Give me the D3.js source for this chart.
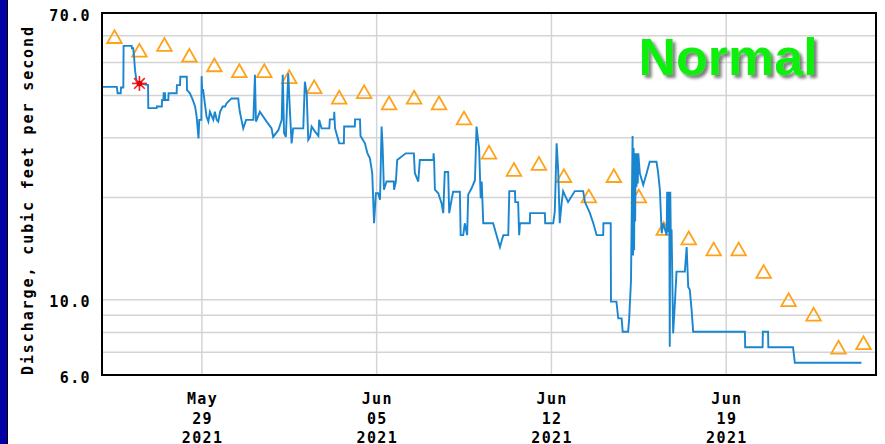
<!DOCTYPE html>
<html>
<head>
<meta charset="utf-8">
<style>
  body { margin: 0; background: #fff; }
  svg { display: block; }
  .lbl { font: bold 15px "DejaVu Sans Mono", monospace; fill: #000; letter-spacing: 1.4px; }
</style>
</head>
<body>
<svg id="chart" width="885" height="444"></svg>
<script src="https://cdn.jsdelivr.net/npm/d3@7"></script>
<script>

// period shown (UTC so nothing shifts)
var startTime = "2021-05-25T00:00:00Z",
    endTime = "2021-06-25T00:00:00Z";

// median daily statistic, one per day starting May 25 (plotted at noon)
var medianFlow = [59.6, 54.3, 56.5, 52.5, 49.2, 47.3, 47.3, 45.4, 42.4, 39.5, 41.0,
                  38.0, 39.5, 38.0, 34.3, 27.2, 24.2, 25.2, 23.2, 20.2, 23.2, 20.2,
                  16.2, 15.2, 14.1, 14.1, 12.1, 10.0, 9.06, 7.24, 7.46];

// discharge: [hours since start, cfs]
var flow = [
  [0,42.4],[14.25,42.4],[15,40.6],[18,40.6],[18.25,42.2],[20.5,42.2],[20.75,56],[28.5,56],
  [28.75,55.1],[30,55.1],[30.75,52.3],[31.75,47.5],[33.25,43.9],[36,43.4],[44.25,42.9],[44.5,36.7],
  [52.5,36.7],[52.75,37.1],[57.5,37.1],[57.75,38.8],[59,38.8],[59.25,40.6],[60.5,40.6],[60.75,38.8],
  [63.75,38.8],[64,40.6],[71.75,40.6],[72,42.9],[75,42.9],[75.25,45.4],[81.5,45.4],[81.75,41.5],
  [84.5,40.6],[87.25,38.8],[89.5,37.1],[91,34.6],[92.75,29.9],[93.5,33.9],[95.5,33.9],[95.75,45.6],
  [96.25,41.5],[97.25,41.5],[97.5,40.9],[100.5,34.6],[102.25,33.5],[103.75,35.8],[107,33.9],[108.5,35.8],
  [110.25,33.9],[111.75,33.5],[113.5,35.8],[116,37.1],[118.25,37.1],[119.75,37.9],[124.5,39.2],[131,39.2],
  [131.25,38.3],[132.5,35.8],[135.75,32.0],[138.5,33.9],[145.5,33.9],[147,46.0],[148,33.5],[151.75,35.8],
  [158.25,33.5],[163,32.0],[164.5,30.2],[169.5,31.6],[172.75,33.9],[173.75,46.0],[175,31.0],[176.75,30.2],
  [179,46.5],[180.75,35.4],[182.25,28.9],[183.75,32.0],[193.5,32.0],[193.75,33.9],[195,43.9],[196.75,40.6],
  [198.25,29.6],[200,30.2],[201.5,32.4],[204.75,31.3],[208,30.4],[208.75,33.9],[211,32.0],[218.5,32.0],
  [219,34.0],[223,34.0],[223.25,35.8],[224,32.0],[228,28.9],[232.5,28.9],[232.75,32.4],[243,32.4],
  [243.25,34.0],[248,34.0],[248.5,30.4],[252.75,28.9],[255,27.1],[257.5,26.1],[259.75,23.6],[261.5,16.8],
  [263.25,20.6],[265.5,20.6],[267.25,19.7],[268.75,32.4],[269.75,28.3],[271,21.1],[273.5,22.3],[280.5,22.3],
  [280.75,21.1],[282.5,22.3],[283.75,25.8],[292,27.0],[299.75,27.0],[300.75,23.6],[304,22.3],[305.5,25.8],
  [318.5,25.8],[318.75,27.0],[319.25,25.8],[320,21.1],[323.25,20.6],[326.5,19.2],[328,18.0],[329.5,23.8],
  [332.75,23.8],[333.75,18.0],[336,19.7],[337.5,20.8],[344,20.8],[344.75,15.5],[347.25,15.5],[348.75,16.8],
  [351,15.5],[352,20.4],[355.25,21.3],[358.5,22.5],[360,32.4],[362.5,27.9],[364,19.9],[365,22.3],
  [366.5,16.8],[376,16.8],[379.25,15.5],[382.5,14.3],[385.75,15.5],[390.5,15.5],[391.5,20.9],[397,20.9],
  [397.25,19.4],[400,19.4],[401,15.5],[401.75,16.8],[411.25,16.8],[411.5,18.0],[425.75,18.0],[426,16.8],
  [433.75,16.8],[435.25,18.2],[437,28.9],[438.5,24.1],[440,16.8],[441.75,19.2],[443.25,20.9],[448,19.4],
  [454.5,20.9],[462.5,20.9],[464.25,19.4],[469,18.0],[472.25,16.8],[475.5,15.5],[481.75,15.5],[482,16.8],
  [489,16.8],[489.25,9.87],[494.5,9.87],[496.25,8.81],[499.5,8.81],[500.5,8.05],[505.75,8.05],[506.75,8.81],
  [508.5,11.4],[510,30.4],[510.5,13.5],[511,28.0],[511.5,14.0],[512,27.0],[512.5,17.0],[513,27.0],
  [513.75,21.5],[514.5,27.0],[515,22.0],[515.5,27.0],[517,23.6],[520.25,21.8],[523.5,23.6],[526.5,25.5],
  [533,25.5],[534.5,23.8],[536.25,21.1],[538,15.7],[539.5,16.8],[542.75,15.5],[543.25,20.8],[543.75,15.8],
  [544.25,20.8],[544.75,15.8],[545.25,20.8],[545.75,7.27],[546.25,20.8],[546.75,15.6],[547.5,16.1],[549,7.96],
  [550.75,9.87],[552.25,12.1],[560.25,12.1],[562,14.3],[563.5,10.9],[565,10.7],[566.75,9.33],[568.25,8.05],
  [618,8.05],[618.25,7.24],[635,7.24],[635.25,8.05],[640.25,8.05],[640.5,7.24],[664.25,7.24],[666,6.52],
  [730,6.52]
];

// measured value (red asterisk)
var measured = [36, 43.4];

var yTickValues = [70, 10, 6],
    yGridValues = [7, 8, 9, 10, 20, 30, 40, 50, 60],
    xTickDates = ["2021-05-29", "2021-06-05", "2021-06-12", "2021-06-19"];

var statusText = "Normal",
    yTitle = "Discharge, cubic feet per second";

var plotLeft = 102, plotRight = 876, plotTop = 13, plotBottom = 375;

var t0 = new Date(startTime).getTime();
function hrs(h) { return new Date(t0 + h * 3600e3); }
function day(s) { return new Date(s + "T00:00:00Z"); }

var x = d3.scaleUtc()
    .domain([new Date(startTime), new Date(endTime)])
    .range([plotLeft, plotRight]);

var y = d3.scaleLog()
    .domain([6, 70])
    .range([plotBottom, plotTop]);

var svg = d3.select("#chart");

svg.append("rect").attr("width", 885).attr("height", 444).attr("fill", "#fff");

// blue strip on the left edge
svg.append("rect").attr("x", 0).attr("y", 0).attr("width", 7).attr("height", 444).attr("fill", "#0000a4");
svg.append("line").attr("x1", 7.5).attr("x2", 7.5).attr("y1", 0).attr("y2", 444)
    .attr("stroke", "#000").attr("stroke-width", 1);

// grid
svg.append("g").selectAll("line")
    .data(yGridValues)
    .enter().append("line")
    .attr("x1", plotLeft).attr("x2", plotRight)
    .attr("y1", function(d) { return y(d); })
    .attr("y2", function(d) { return y(d); })
    .attr("stroke", "#d4d4d4").attr("stroke-width", 1.5);

svg.append("g").selectAll("line")
    .data(xTickDates)
    .enter().append("line")
    .attr("x1", function(d) { return x(day(d)); })
    .attr("x2", function(d) { return x(day(d)); })
    .attr("y1", plotTop).attr("y2", plotBottom)
    .attr("stroke", "#d4d4d4").attr("stroke-width", 1.5);

// median triangles
var tri = "M0,-6.5L7.3,6.3L-7.3,6.3Z";
svg.append("g").selectAll("path")
    .data(medianFlow)
    .enter().append("path")
    .attr("d", tri)
    .attr("transform", function(d, i) {
      return "translate(" + x(hrs(i * 24 + 12)) + "," + y(d) + ")";
    })
    .attr("fill", "none")
    .attr("stroke", "#ffa21a")
    .attr("stroke-width", 1.8);

// discharge line
var line = d3.line()
    .x(function(d) { return x(hrs(d[0])); })
    .y(function(d) { return y(d[1]); });

svg.append("path")
    .datum(flow)
    .attr("d", line)
    .attr("fill", "none")
    .attr("stroke", "#1a86d0")
    .attr("stroke-width", 1.9);

// asterisk
var star = svg.append("g")
    .attr("transform", "translate(" + x(hrs(measured[0])) + "," + y(measured[1]) + ")");
[0, 45, 90, 135].forEach(function(a) {
  star.append("line")
      .attr("x1", -7.5).attr("x2", 7.5).attr("y1", 0).attr("y2", 0)
      .attr("transform", "rotate(" + a + ")")
      .attr("stroke", "#ff1a1a").attr("stroke-width", 1.6);
});
star.append("circle").attr("r", 2.8).attr("fill", "#e00000");

// frame
svg.append("rect")
    .attr("x", plotLeft).attr("y", plotTop)
    .attr("width", plotRight - plotLeft).attr("height", plotBottom - plotTop)
    .attr("fill", "none").attr("stroke", "#000").attr("stroke-width", 2);

// y tick labels
svg.append("g").selectAll("text")
    .data(yTickValues)
    .enter().append("text")
    .attr("class", "lbl")
    .attr("x", 91)
    .attr("y", function(d) { return y(d) + 7.5; })
    .attr("text-anchor", "end")
    .text(function(d) { return d3.format(".1f")(d); });

// x tick labels (three rows)
var fmts = [d3.utcFormat("%b"), d3.utcFormat("%d"), d3.utcFormat("%Y")],
    rowY = [404, 423.5, 442.5];
var xl = svg.append("g").selectAll("g")
    .data(xTickDates)
    .enter().append("g");
fmts.forEach(function(f, k) {
  xl.append("text")
      .attr("class", "lbl")
      .attr("x", function(d) { return x(day(d)) + 0.7; })
      .attr("y", rowY[k])
      .attr("text-anchor", "middle")
      .text(function(d) { return f(day(d)); });
});

// y title
svg.append("text")
    .attr("class", "lbl")
    .attr("transform", "translate(33,375) rotate(-90)")
    .attr("textLength", 348)
    .attr("lengthAdjust", "spacing")
    .style("letter-spacing", "0px")
    .text(yTitle);

// status text with shadow
var defs = svg.append("defs");
var flt = defs.append("filter").attr("id", "shadow")
    .attr("x", "-10%").attr("y", "-20%").attr("width", "130%").attr("height", "150%");
flt.append("feDropShadow")
    .attr("dx", 3).attr("dy", 3).attr("stdDeviation", 1.8)
    .attr("flood-color", "#555").attr("flood-opacity", 0.75);

svg.append("text")
    .attr("x", 728).attr("y", 75)
    .attr("text-anchor", "middle")
    .attr("filter", "url(#shadow)")
    .style("font", "bold 52px 'Liberation Sans', Arial, sans-serif")
    .style("fill", "#0ff00a")
    .text(statusText);

</script>
</body>
</html>
